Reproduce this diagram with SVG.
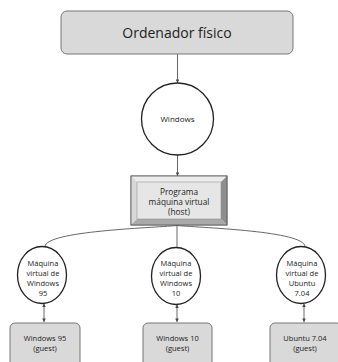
<svg xmlns="http://www.w3.org/2000/svg" width="338" height="362" viewBox="0 0 338 362">
<style>
text{font-family:"Open Sans","Noto Sans","Liberation Sans",sans-serif;fill:#222;text-anchor:middle}
.box{fill:#d9d9d9;stroke:#777;stroke-width:1}
.circ{fill:#fff;stroke:#222;stroke-width:1.3}
.con{fill:none;stroke:#555;stroke-width:0.9}
.s{font-size:7.5px}
</style>
<defs>
<marker id="ah" viewBox="0 0 6 6" refX="6" refY="3" markerWidth="4" markerHeight="4" orient="auto-start-reverse">
<path d="M0,0 L6,3 L0,6 z" fill="#444"/>
</marker>
</defs>
<rect width="338" height="362" fill="#fff"/>
<g id="connectors">
<line class="con" x1="177.5" y1="54" x2="177.5" y2="83" marker-end="url(#ah)"/>
<line class="con" x1="177.5" y1="155" x2="177.5" y2="176" marker-end="url(#ah)"/>
<path class="con" d="M177,225.5 C150,228 46,231 45,246.5"/>
<path class="con" d="M177,225.5 L177,247"/>
<path class="con" d="M177,225.5 C205,228 304,231 305,246.5"/>
<line class="con" x1="44" y1="303.5" x2="44" y2="322" marker-start="url(#ah)" marker-end="url(#ah)"/>
<line class="con" x1="177" y1="304.5" x2="177" y2="322" marker-start="url(#ah)" marker-end="url(#ah)"/>
<line class="con" x1="304" y1="303.5" x2="304" y2="322" marker-start="url(#ah)" marker-end="url(#ah)"/>
</g>
<g id="ordenador">
<rect class="box" x="61" y="11" width="232" height="43" rx="6"/>
<text x="177" y="38" font-size="14">Ordenador físico</text>
</g>
<g id="windows">
<circle class="circ" cx="177.5" cy="119" r="36"/>
<text x="177.5" y="122" font-size="8">Windows</text>
</g>
<g id="host">
<rect x="131" y="176" width="96" height="49" fill="#e9e9e9" stroke="#666" stroke-width="0.8"/>
<polygon points="131,176 227,176 221,182 137,182" fill="#ececec"/>
<polygon points="131,176 137,182 137,219 131,225" fill="#d8d8d8"/>
<polygon points="227,176 227,225 221,219 221,182" fill="#8e8e8e"/>
<polygon points="131,225 227,225 221,219 137,219" fill="#a9a9a9"/>
<rect x="137" y="182" width="84" height="37" fill="#e6e6e6" stroke="#888" stroke-width="0.5"/>
<rect x="131" y="176" width="96" height="49" fill="none" stroke="#555" stroke-width="0.8"/>
<text x="179" y="195" font-size="8.3">Programa</text>
<text x="179" y="205" font-size="8.3">máquina virtual</text>
<text x="179" y="215" font-size="8.3">(host)</text>
</g>
<g id="vm95">
<ellipse class="circ" cx="42" cy="275" rx="24.5" ry="28.5"/>
<text class="s" x="43" y="266">Máquina</text>
<text class="s" x="43" y="276">virtual de</text>
<text class="s" x="43" y="286">Windows</text>
<text class="s" x="43" y="296">95</text>
</g>
<g id="vm10">
<ellipse class="circ" cx="176" cy="276" rx="24.5" ry="28.5"/>
<text class="s" x="176" y="266">Máquina</text>
<text class="s" x="176" y="276">virtual de</text>
<text class="s" x="176" y="286">Windows</text>
<text class="s" x="176" y="296">10</text>
</g>
<g id="vmubuntu">
<ellipse class="circ" cx="301" cy="275" rx="24.5" ry="28.5"/>
<text class="s" x="302" y="266">Máquina</text>
<text class="s" x="302" y="276">virtual de</text>
<text class="s" x="302" y="286">Ubuntu</text>
<text class="s" x="302" y="296">7.04</text>
</g>
<g id="guest95">
<rect class="box" x="10" y="323" width="70" height="50" rx="5"/>
<text class="s" x="45" y="341">Windows 95</text>
<text class="s" x="45" y="351">(guest)</text>
</g>
<g id="guest10">
<rect class="box" x="143" y="323" width="69" height="50" rx="5"/>
<text class="s" x="177.5" y="341">Windows 10</text>
<text class="s" x="177.5" y="351">(guest)</text>
</g>
<g id="guestubuntu">
<rect class="box" x="270" y="323" width="72" height="50" rx="5"/>
<text class="s" x="305" y="341">Ubuntu 7.04</text>
<text class="s" x="305" y="351">(guest)</text>
</g>
</svg>
